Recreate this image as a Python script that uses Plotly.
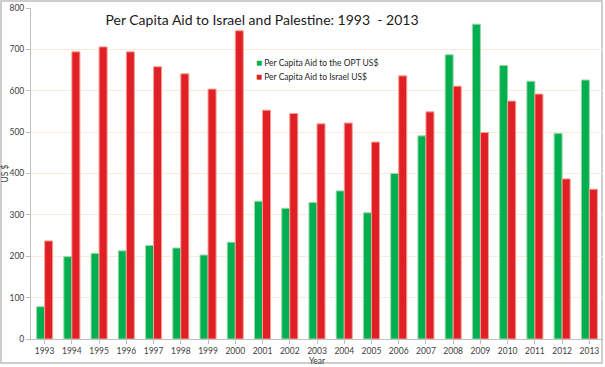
import plotly.graph_objects as go

years = [str(y) for y in range(1993, 2014)]
opt_aid = [78, 199, 207, 213, 226, 220, 203, 234, 333, 316, 330, 358, 305, 400, 491, 687, 761, 661, 623, 497, 626]
israel_aid = [237, 694, 706, 694, 658, 641, 604, 745, 553, 545, 520, 522, 476, 636, 549, 611, 499, 575, 592, 387, 362]
y_ticks = [0, 100, 200, 300, 400, 500, 600, 700, 800]
series_names = ["Per Capita Aid to the OPT US$", "Per Capita Aid to Israel US$"]
series_colors = ["#00b050", "#e01f26"]

W, H = 605, 367
L, R, T, B = 31, 2, 8, 28
pw = W - L - R
ph = H - T - B

fig = go.Figure()
fig.add_trace(go.Bar(
    x=years, y=opt_aid, name=series_names[0],
    marker=dict(color=series_colors[0], line=dict(color="#9ed8a8", width=1)),
))
fig.add_trace(go.Bar(
    x=years, y=israel_aid, name=series_names[1],
    marker=dict(color=series_colors[1], line=dict(color="#f2a090", width=1)),
))

font_family = "Lato, Liberation Sans, Arial, sans-serif"

annotations = []
for i, (nm, col) in enumerate(zip(series_names, series_colors)):
    annotations.append(dict(
        xref="paper", yref="paper",
        x=(254 - L) / pw, y=(339 - (62 + 14 * i)) / ph,
        xanchor="left", yanchor="middle", showarrow=False,
        text=f"<span style='color:{col};font-size:10px'>\u25a0</span> {nm}",
        font=dict(family=font_family, size=8.5, color="#262626"),
    ))

fig.update_layout(
    width=W, height=H,
    margin=dict(l=L, r=R, t=T, b=B, pad=0),
    paper_bgcolor="white", plot_bgcolor="white",
    barmode="group", bargap=0.41, bargroupgap=0,
    font=dict(family=font_family, size=8.5, color="#595959"),
    title=dict(
        text="Per Capita Aid to Israel and Palestine: 1993\u00a0 - 2013",
        font=dict(family=font_family, size=14, color="#1a1a1a"),
        xref="paper", x=(262 - L) / pw, xanchor="center",
        yref="container", y=1 - 20 / H, yanchor="middle",
    ),
    showlegend=False,
    annotations=annotations,
    xaxis=dict(
        showgrid=False, showline=True, linecolor="#bfbfbf", linewidth=1,
        ticks="outside", ticklen=4, tickcolor="#bfbfbf",
        tickfont=dict(size=8.5, color="#404040"),
        title=dict(text="Year", font=dict(size=8.5, color="#404040"), standoff=2),
    ),
    yaxis=dict(
        range=[0, 800], tickvals=y_ticks, showgrid=True, gridcolor="#fde9d9",
        gridwidth=1, zeroline=False, showline=True, linecolor="#bfbfbf",
        ticks="outside", ticklen=4, tickcolor="#bfbfbf",
        tickfont=dict(size=8.5, color="#404040"),
        title=dict(text="US $", font=dict(size=8.5, color="#404040"), standoff=0),
    ),
    shapes=[dict(
        type="rect", xref="paper", yref="paper",
        x0=(1 - L) / pw, x1=(602 - L) / pw,
        y0=(339 - 363) / ph, y1=(339 - 1) / ph,
        line=dict(color="#bfbfbf", width=1.5), fillcolor="rgba(0,0,0,0)", layer="below",
    )],
)

fig.write_html(
    "out.html",
    config={"displayModeBar": False},
    post_script="document.body.style.margin='0';document.body.style.overflow='hidden';",
)
